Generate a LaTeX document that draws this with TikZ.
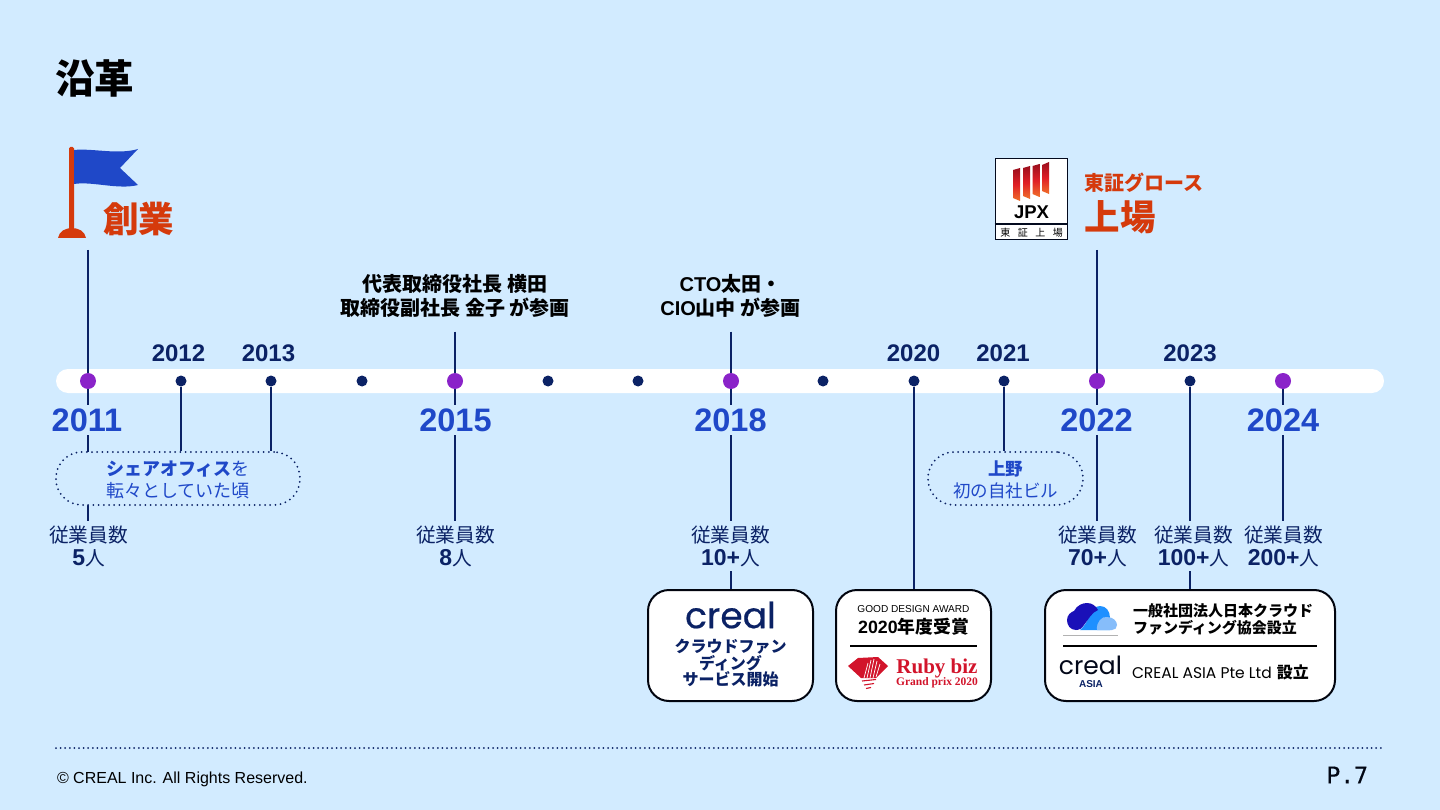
\documentclass[tikz,border=0pt]{standalone}
\usepackage{fontspec}
\usetikzlibrary{backgrounds,calc}
\setmainfont{Liberation Sans}
\newfontfamily\jp{Noto Sans CJK JP}
\newfontfamily\lat{Liberation Sans}
\newfontfamily\serifl{Liberation Serif}
\newfontfamily\logof[FakeBold=0.5]{Poppins}
\newfontfamily\logor{Poppins}
\newfontfamily\monof[FakeBold=0.3]{DejaVu Sans Mono}
\definecolor{bgc}{HTML}{D2EBFF}
\definecolor{navy}{HTML}{0B2265}
\definecolor{azure}{HTML}{1F48C8}
\definecolor{purp}{HTML}{8A23C9}
\definecolor{flame}{HTML}{D53A0C}
\definecolor{rubyred}{HTML}{D2142B}
\definecolor{clouda}{HTML}{1A10B8}
\definecolor{cloudb}{HTML}{1E90FF}
\definecolor{cloudc}{HTML}{86BDFA}
\definecolor{jpxa}{HTML}{9B0F1E}
\definecolor{jpxb}{HTML}{E01F26}
\definecolor{jpxc}{HTML}{F0702A}
\newcommand{\fs}[2]{\fontsize{#1}{#2}\selectfont}
\tikzset{
 x=1pt,y=-1pt,
 lab/.style={inner sep=0pt,outer sep=0pt,align=center},
 major/.style={circle,fill=purp,minimum size=16pt,inner sep=0pt},
 minor/.style={circle,fill=navy,minimum size=11pt,inner sep=0pt},
 conn/.style={draw=navy,line width=1.6pt},
 yrbig/.style={lab,fill=bgc,minimum width=76pt,minimum height=30pt,text=azure,font=\lat\bfseries\fs{32.5}{36}},
 yrsmall/.style={lab,text=navy,font=\lat\bfseries\fs{24}{28}},
 staff/.style={lab,fill=bgc,text=navy,font=\jp\fs{19.7}{23},minimum height=50pt,minimum width=76pt},
 toplab/.style={lab,text=black,font=\jp\bfseries\fs{20}{24}},
 pill/.style={draw=navy,line width=2pt,dash pattern=on 0pt off 5.2pt,line cap=round,fill=bgc,rounded corners=26pt},
 card/.style={draw=black!85!navy,line width=2pt,fill=white,rounded corners=21pt},
 rule/.style={draw=black,line width=1.2pt},
 jpxbar/.style={top color=jpxa,bottom color=jpxc,middle color=jpxb},
}
\newcommand{\staffn}[2]{従業員数\\{\lat\bfseries\fs{23}{23}#1}#2}
\begin{document}
\begin{tikzpicture}
\useasboundingbox (0,0) rectangle (1440,810);
% bar and dots
\node[minor] (d2012) at (181,381) {};
\node[minor] (d2013) at (271,381) {};
\node[minor] (d2014) at (362,381) {};
\node[minor] (d2016) at (548,381) {};
\node[minor] (d2017) at (638,381) {};
\node[minor] (d2019) at (823,381) {};
\node[minor] (d2020) at (914,381) {};
\node[minor] (d2021) at (1004,381) {};
\node[minor] (d2023) at (1190,381) {};
\node[major] (d2011) at (88,381) {};
\node[major] (d2015) at (455,381) {};
\node[major] (d2018) at (731,381) {};
\node[major] (d2022) at (1097,381) {};
\node[major] (d2024) at (1283,381) {};
% title
\node[lab,anchor=center,font=\jp\bfseries\fs{39.5}{42}] (title) at (94.5,78) {沿革};
% flag
\fill[flame,rounded corners=1.5pt] (69,147) rectangle (74,231);
\fill[flame] (58,238) .. controls (59,231) and (66,228) .. (72,228) .. controls (78,228) and (85,231) .. (86,238) -- cycle;
\fill[azure] (74,150) .. controls (92,148) and (118,155) .. (138,149) -- (120,168) -- (138,185) .. controls (118,190) and (92,181) .. (74,184) -- cycle;
\node[lab,text=flame,font=\jp\bfseries\fs{35.5}{38}] (founded) at (138.5,219) {創業};
\coordinate (c2011top) at (88,250);
% JPX
\node[draw=black!70!navy,line width=1.6pt,fill=white,minimum width=72pt,minimum height=81pt,inner sep=0pt] (jpx) at (1031.5,199) {};
\draw[draw=black!70!navy,line width=1.6pt] (jpx.west |- 0,224) -- (jpx.east |- 0,224);
\shade[jpxbar] (1013,170) -- (1020,168) -- (1020,201) -- (1013,198) -- cycle;
\shade[jpxbar] (1023,168) -- (1030,166) -- (1030,199) -- (1023,196) -- cycle;
\shade[jpxbar] (1032.5,166) -- (1039.5,164) -- (1039.5,197) -- (1032.5,194) -- cycle;
\shade[jpxbar] (1042,165) -- (1049,162) -- (1049,194) -- (1042,191) -- cycle;
\node[lab,font=\lat\bfseries\fs{18.5}{20},text=black] (jpxt) at (1031.5,212) {JPX};
\node[lab,font=\jp\fs{10}{10},text=black] (jpxs) at (1031.5,232.5) {東\hspace{7.5pt}証\hspace{7.5pt}上\hspace{7.5pt}場};
\node[lab,anchor=west,text=flame,font=\jp\bfseries\fs{20}{22}] (tse) at (1084,183) {東証グロース};
\node[lab,anchor=west,text=flame,font=\jp\bfseries\fs{35.5}{38}] (listed) at (1084.5,217) {上場};
\coordinate (c2022top) at (1097,250);
% top labels
\node[toplab] (t2015) at (455,296) {代表取締役社長 横田\\取締役副社長 金子 が参画};
\node[toplab] (t2018) at (730.5,296) {{\lat\bfseries CTO}太田・\\{\lat\bfseries CIO}山中 が参画};
% years
\node[yrsmall] (y2012) at (178.5,353) {2012};
\node[yrsmall] (y2013) at (268.5,353) {2013};
\node[yrsmall] (y2020) at (913.5,353) {2020};
\node[yrsmall] (y2021) at (1003,353) {2021};
\node[yrsmall] (y2023) at (1190,353) {2023};
\node[yrbig] (y2011) at (87,420) {2011};
\node[yrbig] (y2015) at (455.5,420) {2015};
\node[yrbig] (y2018) at (730.5,420) {2018};
\node[yrbig] (y2022) at (1096.5,420) {2022};
\node[yrbig] (y2024) at (1283,420) {2024};
% pills
\node[pill,minimum width=244pt,minimum height=53pt,inner sep=0pt] (p1) at (178,478.5) {};
\node[lab,text=azure,font=\jp\fs{18}{22}] (p1t) at (178,479.5) {{\bfseries シェアオフィス}を\\転々としていた頃};
\node[pill,minimum width=155pt,minimum height=53pt,inner sep=0pt] (p2) at (1005.5,478.5) {};
\node[lab,text=azure,font=\jp\fs{17.5}{22}] (p2t) at (1005.5,479.5) {{\bfseries 上野}\\初の自社ビル};
% staff
\node[staff] (e2011) at (88.5,546) {\staffn{5}{人}};
\node[staff] (e2015) at (455.5,546) {\staffn{8}{人}};
\node[staff] (e2018) at (730.5,546) {\staffn{10+}{人}};
\node[staff] (e2022) at (1097.5,546) {\staffn{70+}{人}};
\node[staff] (e2023) at (1193.5,546) {\staffn{100+}{人}};
\node[staff] (e2024) at (1283.5,546) {\staffn{200+}{人}};
% cards
\node[card,minimum width=165pt,minimum height=111pt,inner sep=0pt] (c1) at (730.5,645.5) {};
\node[card,minimum width=155pt,minimum height=111pt,inner sep=0pt] (c2) at (913.5,645.5) {};
\node[card,minimum width=290pt,minimum height=111pt,inner sep=0pt] (c3) at (1190,645.5) {};
\node[lab,text=navy,font=\logof\fs{36}{38}] (clogo) at (730.5,615) {creal};
\node[lab,text=navy,font=\jp\bfseries\fs{16}{16.5}] (c1t) at (730.5,663.5) {クラウドファン\\ディング\\サービス開始};
\node[lab,text=black,font=\lat\fs{10.1}{11}] (gda) at (913.5,609) {GOOD DESIGN AWARD};
\node[lab,text=black,font=\jp\bfseries\fs{17.8}{20}] (gdy) at (913.5,627) {{\lat\bfseries 2020}年度受賞};
\coordinate (r2a) at (850,646);\coordinate (r2b) at (977,646);
\draw[rule] (r2a) -- (r2b);
% ruby mark
\fill[rubyred] (848,666) -- (858,658) -- (878,657) -- (888,666) -- (876,678) -- (861,678) -- cycle;
\draw[white,line width=.7pt] (864,678) -- (868,663) (867,678) -- (871,660) (870,678) -- (874,659) (873,678) -- (877,661) (876,677) -- (880,664);
\draw[rubyred,line width=1.1pt] (862,681) -- (876,679.5) (864,685) -- (874,683.5) (866,688.5) -- (871,687.5);
\node[lab,text=rubyred,font=\serifl\bfseries\fs{21}{23}] (ruby) at (937,668) {Ruby biz};
\node[lab,text=rubyred,font=\serifl\bfseries\fs{11.5}{13}] (grand) at (937,683) {Grand prix 2020};
% cloud logo
\fill[cloudb] (1080,630) .. controls (1090,622) and (1090,606) .. (1100,606) .. controls (1106,606) and (1110,611) .. (1110,618) -- (1110,630) -- cycle;
\fill[cloudc] (1097,630) .. controls (1096,622) and (1102,616) .. (1107,617) .. controls (1113,617) and (1117,621) .. (1117,625) .. controls (1117,628) and (1115,630) .. (1112,630) -- cycle;
\fill[clouda] (1076,630) .. controls (1070,630) and (1067,625) .. (1067,620) .. controls (1067,615) and (1071,612) .. (1074,611) .. controls (1077,605) and (1083,603) .. (1087,603) .. controls (1092,603) and (1096,606) .. (1098,610) .. controls (1092,612) and (1088,620) .. (1084,625) .. controls (1082,628) and (1080,630) .. (1076,630) -- cycle;
\coordinate (cla) at (1063,635);\coordinate (clb) at (1118,635);
\draw[gray!60,line width=.6pt] (cla) -- (clb);
\node[lab,anchor=west,text=black,font=\jp\bfseries\fs{15}{17},align=left] (c3t) at (1133,619.5) {一般社団法人日本クラウド\\ファンディング協会設立};
\coordinate (r3a) at (1063,646);\coordinate (r3b) at (1317,646);
\draw[rule] (r3a) -- (r3b);
\node[lab,text=black!75!navy,font=\logor\fs{25}{27}] (clogo2) at (1090.5,665) {creal};
\node[lab,text=navy,font=\lat\bfseries\fs{10}{11}] (asia) at (1091,684) {ASIA};
\node[lab,anchor=west,text=black,font=\logor\fs{15.5}{17}] (casia) at (1132,672) {CREAL ASIA Pte Ltd\hspace{5pt}{\jp\bfseries\fs{16}{17}設立}};
% footer
\coordinate (fa) at (56,748);\coordinate (fb) at (1384,748);
\draw[navy,line width=2pt,line cap=round,dash pattern=on 0pt off 4.6pt] (fa) -- (fb);
\node[lab,anchor=west,text=black,font=\lat\fs{16}{18}] (copy) at (57,779.5) {© CREAL Inc. All Rights Reserved.};
\node[lab,anchor=east,text=black!80!navy,font=\monof\fs{23}{24}] (page) at (1368,775) {P.7};
% back layer
\begin{scope}[on background layer]
\fill[bgc] (0,0) rectangle (1440,810);
\fill[white,rounded corners=12pt] (56,369) rectangle (1384,393);
\begin{scope}[conn]
\draw (c2011top) -- (d2011);
\draw (d2011) -- (d2011 |- e2011.north);
\draw (d2012) -- (d2012 |- p1.north);
\draw (d2013) -- (d2013 |- p1.north);
\draw[shorten <=14pt] (d2015 |- t2015.south) -- (d2015);
\draw (d2015) -- (d2015 |- e2015.north);
\draw[shorten <=14pt] (d2018 |- t2018.south) -- (d2018);
\draw (d2018) -- (d2018 |- c1.north);
\draw (d2020) -- (d2020 |- c2.north);
\draw (d2021) -- (d2021 |- p2.north);
\draw (c2022top) -- (d2022);
\draw (d2022) -- (d2022 |- e2022.north);
\draw (d2023) -- (d2023 |- c3.north);
\draw (d2024) -- (d2024 |- e2024.north);
\end{scope}
\end{scope}
\end{tikzpicture}
\end{document}
